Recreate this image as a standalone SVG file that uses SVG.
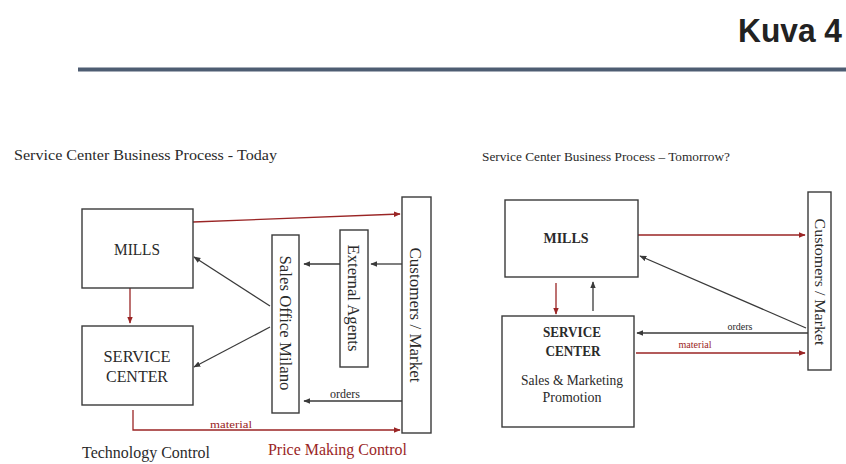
<svg xmlns="http://www.w3.org/2000/svg" width="846" height="464" viewBox="0 0 846 464">
<style>
.box{fill:#fff;stroke:#3a3a3a;stroke-width:1.4}
.t{font-family:"Liberation Serif","Times New Roman",serif;fill:#2a2a2a}
.b{font-weight:bold}
.red{stroke:#9a2525;stroke-width:1.3;fill:none}
.dk{stroke:#3a3a3a;stroke-width:1.3;fill:none}
.rt{fill:#9a2525}
</style>
<defs>
<marker id="ar" viewBox="0 0 10 10" refX="9" refY="5" markerWidth="7" markerHeight="7" markerUnits="userSpaceOnUse" orient="auto"><path d="M0,1 L10,5 L0,9 z" fill="#9a2525"/></marker>
<marker id="ad" viewBox="0 0 10 10" refX="9" refY="5" markerWidth="7" markerHeight="7" markerUnits="userSpaceOnUse" orient="auto"><path d="M0,1 L10,5 L0,9 z" fill="#3a3a3a"/></marker>
</defs>
<rect width="846" height="464" fill="#fff"/>
<g id="header">
<text x="842" y="42" text-anchor="end" font-family="Liberation Sans,Arial,sans-serif" font-weight="bold" font-size="33" fill="#222" textLength="104" lengthAdjust="spacingAndGlyphs">Kuva 4</text>
<line x1="78" y1="69.5" x2="846" y2="69.5" stroke="#4e5d72" stroke-width="4"/>
</g>
<g id="titles">
<text class="t" x="14" y="160" font-size="15" textLength="263" lengthAdjust="spacingAndGlyphs">Service Center Business Process - Today</text>
<text class="t" x="482" y="161" font-size="13" textLength="248" lengthAdjust="spacingAndGlyphs">Service Center Business Process – Tomorrow?</text>
<text class="t" x="82" y="458" font-size="16" textLength="128" lengthAdjust="spacingAndGlyphs">Technology Control</text>
<text class="t rt" x="268" y="455" font-size="16" textLength="139" lengthAdjust="spacingAndGlyphs">Price Making Control</text>
</g>
<g id="connectors">
<line class="red" x1="193" y1="222" x2="400" y2="214" marker-end="url(#ar)"/>
<line class="red" x1="130" y1="288" x2="130" y2="323" marker-end="url(#ar)"/>
<line class="dk" x1="270" y1="306" x2="194" y2="257" marker-end="url(#ad)"/>
<line class="dk" x1="270" y1="327" x2="194" y2="367" marker-end="url(#ad)"/>
<line class="dk" x1="340" y1="264" x2="304" y2="264" marker-end="url(#ad)"/>
<line class="dk" x1="402" y1="264" x2="371" y2="264" marker-end="url(#ad)"/>
<line class="dk" x1="402" y1="401" x2="304" y2="401" marker-end="url(#ad)"/>
<text class="t" x="345" y="398" font-size="12" text-anchor="middle" textLength="30" lengthAdjust="spacingAndGlyphs">orders</text>
<polyline class="red" points="133,410 133,430 400,430" marker-end="url(#ar)"/>
<text class="t rt" x="231" y="428" font-size="11" text-anchor="middle" textLength="42" lengthAdjust="spacingAndGlyphs">material</text>
<line class="red" x1="638" y1="235" x2="805" y2="235" marker-end="url(#ar)"/>
<line class="dk" x1="806" y1="328" x2="640" y2="256" marker-end="url(#ad)"/>
<line class="red" x1="556" y1="283" x2="556" y2="314" marker-end="url(#ar)"/>
<line class="dk" x1="593" y1="311" x2="593" y2="282" marker-end="url(#ad)"/>
<line class="dk" x1="808" y1="333" x2="637" y2="333" marker-end="url(#ad)"/>
<text class="t" x="740" y="330" font-size="10" text-anchor="middle" textLength="25" lengthAdjust="spacingAndGlyphs">orders</text>
<line class="red" x1="636" y1="353" x2="805" y2="353" marker-end="url(#ar)"/>
<text class="t rt" x="695" y="348" font-size="11" text-anchor="middle" textLength="33" lengthAdjust="spacingAndGlyphs">material</text>
</g>
<g id="mills-today">
<rect class="box" x="82" y="209" width="111" height="79"/>
<text class="t" x="137" y="255" font-size="17" text-anchor="middle" textLength="46" lengthAdjust="spacingAndGlyphs">MILLS</text>
</g>
<g id="service-center-today">
<rect class="box" x="82" y="326" width="111" height="79"/>
<text class="t" x="137" y="362" font-size="17" text-anchor="middle" textLength="67" lengthAdjust="spacingAndGlyphs">SERVICE</text>
<text class="t" x="137" y="382" font-size="17" text-anchor="middle" textLength="62" lengthAdjust="spacingAndGlyphs">CENTER</text>
</g>
<g id="sales-office">
<rect class="box" x="272" y="235" width="27" height="178"/>
<text class="t" x="286" y="323" dy="0.35em" font-size="16" text-anchor="middle" transform="rotate(90 286 323)" textLength="135" lengthAdjust="spacingAndGlyphs">Sales Office Milano</text>
</g>
<g id="external-agents">
<rect class="box" x="340" y="230" width="28" height="137"/>
<text class="t" x="354" y="298" dy="0.35em" font-size="16" text-anchor="middle" transform="rotate(90 354 298)" textLength="107" lengthAdjust="spacingAndGlyphs">External Agents</text>
</g>
<g id="customers-today">
<rect class="box" x="402" y="197" width="29" height="236"/>
<text class="t" x="416" y="315" dy="0.35em" font-size="16" text-anchor="middle" transform="rotate(90 416 315)" textLength="135" lengthAdjust="spacingAndGlyphs">Customers / Market</text>
</g>
<g id="mills-tomorrow">
<rect class="box" x="505" y="200" width="133" height="77"/>
<text class="t b" x="566" y="243" font-size="14" text-anchor="middle" textLength="45" lengthAdjust="spacingAndGlyphs">MILLS</text>
</g>
<g id="service-center-tomorrow">
<rect class="box" x="502" y="316" width="132" height="111"/>
<text class="t b" x="572" y="337" font-size="14" text-anchor="middle" textLength="58" lengthAdjust="spacingAndGlyphs">SERVICE</text>
<text class="t b" x="573" y="356" font-size="14" text-anchor="middle" textLength="55" lengthAdjust="spacingAndGlyphs">CENTER</text>
<text class="t" x="572" y="385" font-size="14" text-anchor="middle" textLength="102" lengthAdjust="spacingAndGlyphs">Sales &amp; Marketing</text>
<text class="t" x="572" y="402" font-size="14" text-anchor="middle" textLength="59" lengthAdjust="spacingAndGlyphs">Promotion</text>
</g>
<g id="customers-tomorrow">
<rect class="box" x="808" y="192" width="23" height="178"/>
<text class="t" x="820" y="282" dy="0.35em" font-size="14" text-anchor="middle" transform="rotate(90 820 282)" textLength="127" lengthAdjust="spacingAndGlyphs">Customers / Market</text>
</g>
</svg>
